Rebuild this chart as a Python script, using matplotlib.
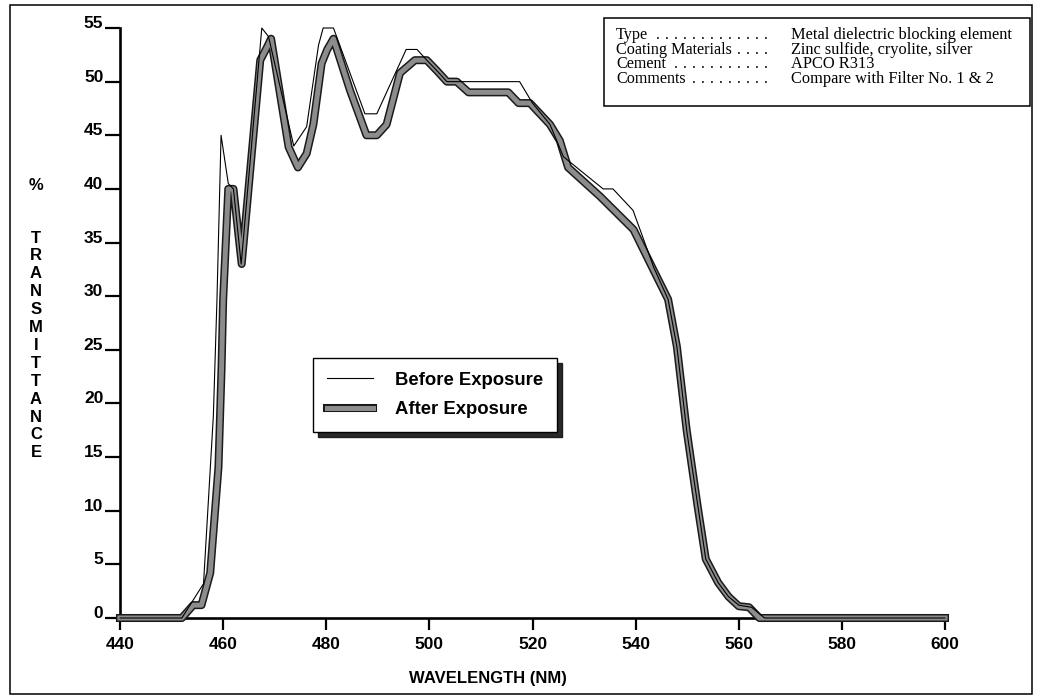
import matplotlib
matplotlib.use("Agg")
import matplotlib.pyplot as plt
import matplotlib.patheffects as pe
from matplotlib.patches import Rectangle

# transmittance (%) vs wavelength (nm)
before_wl = [440, 452, 456.2, 458.1, 458.8, 459.6, 461, 462, 463.5, 467.5, 468.8,
             473.7, 476.2, 478.5, 479.4, 481.4, 487.5, 489.8, 495.5, 497.6, 499.5,
             501.5, 503.4, 506, 517.5, 520, 523.4, 526, 533.7, 535.6, 539.5, 543.5,
             546.3, 548, 549.9, 551.9, 553.6, 556, 558, 560, 562.5, 565, 600]
before_t = [0, 0, 3.2, 18.8, 29.6, 45, 40.5, 40, 33, 55, 54.2,
            44, 45.8, 53.4, 55, 55, 47, 47, 53, 53, 52,
            51, 50, 50, 50, 48, 46, 43, 40, 40, 38, 32.7,
            29.7, 25.3, 17.5, 11, 5.5, 3.3, 2, 1.2, 1, 0, 0]

after_wl = [440, 452, 454.2, 455.8, 457.5, 459.1, 459.7, 460, 461, 462, 463.6,
            467.2, 468.5, 469.3, 472.7, 474.5, 476.2, 477.5, 479.1, 480.2, 481.4,
            484.6, 487.8, 489.8, 491.7, 494.3, 497.2, 499.5, 501.5, 503.4, 505.3,
            507.6, 515.3, 517.3, 519.5, 523.4, 525.3, 526.9, 533.1, 539.6, 543.5,
            546.3, 548, 549.9, 552, 553.6, 556, 558, 560, 562, 564, 600]
after_t = [0, 0, 1.2, 1.2, 4.2, 14.1, 23.4, 29.6, 40, 40, 33,
           52, 53.2, 54, 43.9, 42, 43.3, 46, 51.7, 53, 54,
           49.2, 45, 45, 46, 50.8, 52, 52, 51, 50, 50,
           49, 49, 48, 48, 46, 44.5, 42, 39.3, 36.2, 32.4,
           29.7, 25.3, 17.5, 10.5, 5.5, 3.3, 2, 1.1, 1, 0, 0]

x_ticks = [440, 460, 480, 500, 520, 540, 560, 580, 600]
y_ticks = [0, 5, 10, 15, 20, 25, 30, 35, 40, 45, 50, 55]

info_keys = ["Type", "Coating Materials", "Cement", "Comments"]
info_dots = [13, 4, 11, 9]
info_vals = ["Metal dielectric blocking element", "Zinc sulfide, cryolite, silver",
             "APCO R313", "Compare with Filter No. 1 & 2"]

W, H = 1038, 700
plt.rcParams['font.family'] = ['Liberation Sans', 'DejaVu Sans']

fig = plt.figure(figsize=(W / 100, H / 100), dpi=100)
ax = fig.add_axes([120 / W, 1 - 618 / H, 825 / W, 590 / H])

ax.plot(before_wl, before_t, color='black', lw=0.8, label='Before Exposure',
        zorder=4, clip_on=False)
ax.plot(after_wl, after_t, color='#8c8c8c', lw=3.6, label='After Exposure',
        zorder=3, clip_on=False, solid_joinstyle='round',
        path_effects=[pe.Stroke(linewidth=5.8, foreground='#1a1a1a'), pe.Normal()])

ax.set_xlim(440, 600)
ax.set_ylim(0, 55)
ax.set_xticks(x_ticks)
ax.set_yticks(y_ticks)
for s in ['top', 'right']:
    ax.spines[s].set_visible(False)
for s in ['left', 'bottom']:
    ax.spines[s].set_linewidth(1.9)
ax.tick_params(axis='y', direction='out', length=10.5, width=1.6, pad=1.5,
               labelsize=12.5)
ax.tick_params(axis='x', direction='out', length=8.5, width=1.6, pad=5,
               labelsize=12.5)
for lab in ax.get_xticklabels() + ax.get_yticklabels():
    lab.set_fontweight('bold')
for lab in ax.get_yticklabels():
    lab.set_va('baseline')

leg = ax.legend(loc='lower left', bbox_to_anchor=((313 - 120) / 825, (618 - 432) / 590),
                borderaxespad=0, frameon=True, fancybox=False, framealpha=1,
                edgecolor='black', handlelength=2.5, handletextpad=1.2,
                borderpad=0.75, labelspacing=0.66,
                prop={'weight': 'bold', 'size': 13.3},
                shadow={'ox': 3.5, 'oy': -3.5, 'color': '#111111', 'alpha': 0.9})
leg.get_frame().set_linewidth(1.0)

# axis titles
fig.text(488 / W, 1 - 678 / H, 'WAVELENGTH (NM)', ha='center', va='center',
         fontsize=12, fontweight='bold')
fig.text(36 / W, 1 - 186 / H, '%', ha='center', va='center', fontsize=12,
         fontweight='bold')
for i, ch in enumerate('TRANSMITTANCE'):
    fig.text(36 / W, 1 - (238 + i * 17.9) / H, ch, ha='center', va='center',
             fontsize=12, fontweight='bold')

# info box
fig.patches.append(Rectangle((604 / W, 1 - 106 / H), (1030 - 604) / W, (106 - 18) / H,
                             transform=fig.transFigure, fill=False, lw=1.1,
                             edgecolor='black'))
for i, (k, n, v) in enumerate(zip(info_keys, info_dots, info_vals)):
    y = 1 - (35 + i * 14.6) / H
    fig.text(616 / W, y, k, ha='left', va='center', fontsize=11.6,
             family='Liberation Serif')
    for j in range(n):
        fig.text((768 - j * 9.0) / W, y, '.', ha='right', va='center', fontsize=11.6,
                 family='Liberation Serif')
    fig.text(791 / W, y, v, ha='left', va='center', fontsize=11.8,
             family='Liberation Serif')

# outer frame
fig.patches.append(Rectangle((10 / W, 1 - 694 / H), (1032 - 10) / W, (694 - 5) / H,
                             transform=fig.transFigure, fill=False, lw=1.1,
                             edgecolor='black'))

fig.savefig('out.png', dpi=100)
